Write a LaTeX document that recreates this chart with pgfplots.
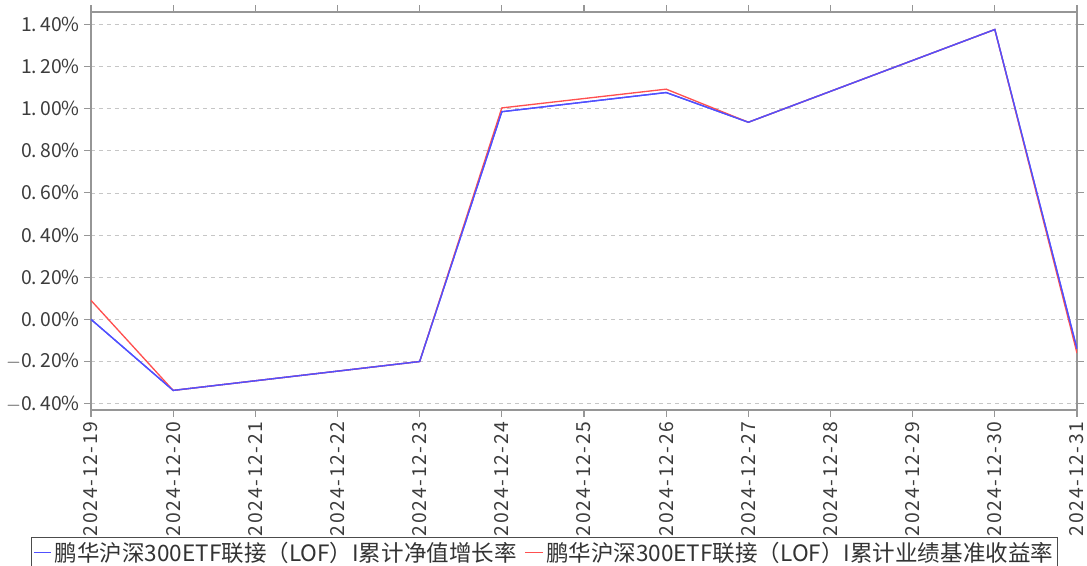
\documentclass[border=0pt]{standalone}
\usepackage{pgfplots}
\pgfplotsset{compat=1.18}
\usepackage{fontspec}
\setmainfont{Noto Sans CJK SC}
\definecolor{cblue}{RGB}{80,80,255}
\definecolor{cred}{RGB}{255,80,80}
\definecolor{ctext}{RGB}{60,60,60}
\definecolor{cax}{RGB}{150,150,150}
\begin{document}
\begin{tikzpicture}
\begin{axis}[
  name=ax,
  scale only axis,
  width=739.5pt, height=298.5pt,
  xmin=19, xmax=31,
  ymin=-0.43, ymax=1.458,
  xtick={19,...,31},
  xticklabels={2024-12-19,2024-12-20,2024-12-21,2024-12-22,2024-12-23,2024-12-24,2024-12-25,2024-12-26,2024-12-27,2024-12-28,2024-12-29,2024-12-30,2024-12-31},
  x tick label style={rotate=90, anchor=east, font=\fontsize{14.5}{16}\selectfont\addfontfeatures{LetterSpace=9}, text=ctext},
  ytick={-0.4,-0.2,0,0.2,0.4,0.6,0.8,1.0,1.2,1.4},
  yticklabels={$-$0.\,40\%,$-$0.\,20\%,0.\,00\%,0.\,20\%,0.\,40\%,0.\,60\%,0.\,80\%,1.\,00\%,1.\,20\%,1.\,40\%},
  y tick label style={font=\fontsize{14.5}{16}\selectfont, text=ctext},
  tick align=outside,
  tick style={cax, line width=0.8pt},
  major tick length=5pt,
  axis line style={cax, line width=1pt},
  ymajorgrids,
  grid style={dashed, gray!45, line width=0.5pt},
  legend style={at={(0.46,-0.319)}, anchor=north, legend columns=2,
    draw=black!70, line width=0.8pt, font=\fontsize{16.9}{18}\selectfont, text=black!80,
    inner sep=1.5pt, /tikz/every even column/.append style={column sep=4pt}},
  legend image code/.code={\draw[#1] (0pt,0pt) -- (13pt,0pt);},
]
\addplot[cblue, line width=1pt] coordinates {
(19,0.00) (20,-0.337) (23,-0.20) (24,0.985) (26,1.076) (27,0.935) (30,1.375) (31,-0.14)
};
\addlegendentry{鹏华沪深300ETF联接（LOF）I累计净值增长率}
\addplot[cred, line width=1pt] coordinates {
(19,0.09) (20,-0.337) (23,-0.20) (24,1.003) (26,1.092) (27,0.935) (30,1.375) (31,-0.16)
};
\addlegendentry{鹏华沪深300ETF联接（LOF）I累计业绩基准收益率}
\addplot[cblue, line width=1pt, forget plot] coordinates {
(19,0.00) (20,-0.337) (23,-0.20) (24,0.985) (26,1.076) (27,0.935) (30,1.375) (31,-0.14)
};
\end{axis}
\pgfresetboundingbox
\path ([xshift=-68.25pt, yshift=-116.25pt]ax.south west) rectangle ([xshift=7.5pt, yshift=9pt]ax.north east);
\end{tikzpicture}
\end{document}
